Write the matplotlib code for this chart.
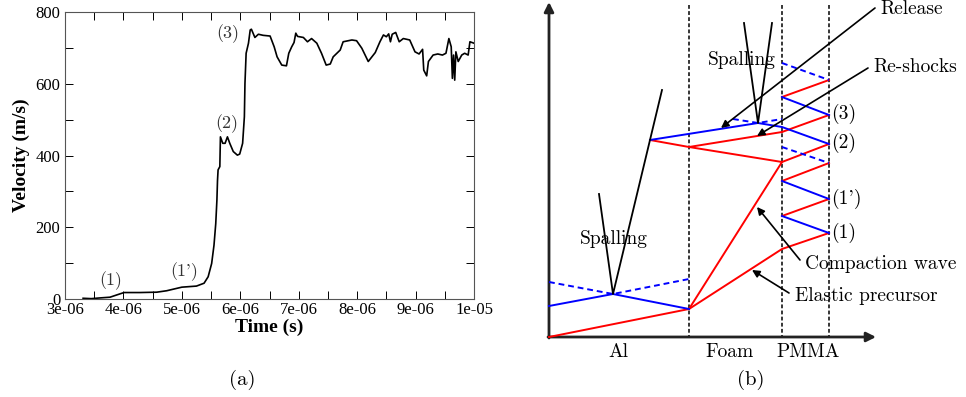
import numpy as np
import matplotlib.pyplot as plt
from matplotlib.ticker import MultipleLocator, FuncFormatter

# ---- panel (a): free surface velocity (time in microseconds) ----
t_us = [3.31, 3.45, 3.60, 3.77, 3.88, 4.01, 4.28, 4.57, 4.74, 5.00, 5.25, 5.38,
        5.45, 5.51, 5.55, 5.58, 5.60, 5.61, 5.62, 5.65, 5.66, 5.70, 5.74, 5.78, 5.82, 5.88,
        5.95, 5.99, 6.04, 6.07, 6.08, 6.10, 6.14, 6.17, 6.19, 6.25, 6.31, 6.39,
        6.51, 6.58, 6.63, 6.71, 6.79, 6.83, 6.88, 6.92, 6.95, 6.98, 7.08, 7.15,
        7.22, 7.31, 7.39, 7.47, 7.54, 7.59, 7.71, 7.76, 7.91, 7.99, 8.08, 8.19,
        8.31, 8.39, 8.45, 8.50, 8.54, 8.57, 8.60, 8.66, 8.72, 8.79, 8.90, 8.99,
        9.06, 9.12, 9.14, 9.19, 9.22, 9.30, 9.38, 9.46, 9.52, 9.57, 9.61, 9.63,
        9.65, 9.67, 9.69, 9.73, 9.79, 9.84, 9.90, 9.93, 10.0]
velocity = [2, 1, 3, 5, 11, 18, 18, 19, 23, 33, 36, 44,
            62, 99, 150, 210, 276, 330, 360, 369, 452, 434, 434, 452, 434, 411,
            401, 404, 434, 508, 601, 685, 713, 750, 752, 729, 738, 735,
            733, 703, 675, 652, 650, 685, 703, 715, 741, 732, 729, 717,
            726, 713, 685, 652, 655, 675, 694, 717, 722, 720, 699, 662,
            687, 717, 736, 731, 739, 717, 738, 743, 717, 726, 722, 689,
            683, 696, 638, 622, 662, 680, 683, 680, 685, 726, 703, 615,
            680, 610, 689, 662, 680, 685, 680, 717, 713]
point_labels = ["(1)", "(1')", "(2)", "(3)"]
point_t_us = [3.79, 5.04, 5.77, 5.79]
point_v = [50, 75, 490, 741]

# ---- panel (b): wave diagram (schematic, pixel units) ----
interfaces_x = [689, 782, 829]
red_paths = [
    [(549, 337), (689, 309)],
    [(689, 309), (782, 249), (829, 233)],
    [(689, 309), (782, 162)],
    [(782, 216), (829, 199)],
    [(782, 181), (829, 163)],
    [(782, 162), (829, 144)],
    [(782, 132), (829, 115)],
    [(782, 97), (829, 80)],
    [(650, 140), (689, 147), (782, 162)],
    [(689, 147), (782, 132)],
]
blue_paths = [
    [(549, 306), (613, 294), (689, 309)],
    [(650, 140), (758, 123), (782, 127), (829, 144)],
    [(782, 216), (829, 233)],
    [(782, 181), (829, 199)],
    [(782, 97), (829, 115)],
]
blue_dashed = [
    [(549, 282), (613, 294), (689, 279)],
    [(733, 119), (758, 123), (782, 119)],
    [(782, 147), (829, 163)],
    [(782, 63), (829, 80)],
]
spall_lines = [
    [(599, 194), (613, 294), (662, 90)],
    [(744, 23), (758, 123), (772, 23)],
]
arrow_texts = ["Release", "Re-shocks", "Compaction wave", "Elastic precursor"]
arrow_text_pos = [(880, 9), (873, 67), (805, 264), (795, 296)]
arrow_start = [(875, 8), (868, 68), (800, 260), (789, 293)]
arrow_end = [(721, 128), (757, 136), (757, 207), (752, 270)]
state_labels = ["(3)", "(2)", "(1')", "(1)"]
state_y = [114, 143, 199, 233]
material_labels = ["Al", "Foam", "PMMA"]
material_x = [618, 729, 808]

W, H = 966, 397
fig = plt.figure(figsize=(W / 100, H / 100), dpi=100)

# ---------- (a) ----------
ax = fig.add_axes([65 / W, (H - 299) / H, (474 - 65) / W, (299 - 12) / H])
ax.plot(np.array(t_us) * 1e-6, velocity, color='black', lw=1.2)
ax.set_xlim(3e-6, 1e-5)
ax.set_ylim(0, 800)
ax.xaxis.set_major_locator(MultipleLocator(1e-6))
ax.xaxis.set_minor_locator(MultipleLocator(5e-7))
ax.yaxis.set_major_locator(MultipleLocator(200))
ax.yaxis.set_minor_locator(MultipleLocator(100))
ax.xaxis.set_major_formatter(FuncFormatter(lambda v, p: "{:.0e}".format(v)))
ax.tick_params(which='both', direction='in', top=True, right=True, length=6, width=0.7)
ax.tick_params(axis='x', pad=2)
for lab in ax.get_xticklabels() + ax.get_yticklabels():
    lab.set_fontfamily('Liberation Serif')
    lab.set_fontsize(12)
for s in ax.spines.values():
    s.set_linewidth(0.8)
    s.set_color('#555555')
ax.set_xlabel("Time (s)", family='Liberation Serif', fontsize=14, fontweight='bold', labelpad=1)
ax.set_ylabel("Velocity (m/s)", family='Liberation Serif', fontsize=14, fontweight='bold', labelpad=4)
for lab, tx, vy in zip(point_labels, point_t_us, point_v):
    ax.text(tx * 1e-6, vy, lab, family='cmr10', fontsize=13, ha='center', va='center',
            color='#333333', clip_on=False)
fig.text(242 / W, 1 - 380 / H, "(a)", family='cmr10', fontsize=15, ha='center', va='center')

# ---------- (b) ----------
bx = fig.add_axes([483 / W, 0, 483 / W, 1])
bx.set_xlim(483, 966)
bx.set_ylim(397, 0)
bx.axis('off')

for x in interfaces_x:
    bx.plot([x, x], [5, 337], color='black', lw=1.1, ls=(0, (2.5, 1.5)), zorder=1)

bx.annotate("", xy=(549, 2), xytext=(549, 338),
            arrowprops=dict(arrowstyle='-|>', color='#222222', lw=2, mutation_scale=14,
                            shrinkA=0, shrinkB=0))
bx.annotate("", xy=(876, 337), xytext=(548, 337),
            arrowprops=dict(arrowstyle='-|>', color='#222222', lw=2, mutation_scale=14,
                            shrinkA=0, shrinkB=0))

for path in red_paths:
    xs, ys = zip(*path)
    bx.plot(xs, ys, color='#ff0000', lw=1.4, zorder=3)
for path in blue_paths:
    xs, ys = zip(*path)
    bx.plot(xs, ys, color='#0000ff', lw=1.4, zorder=3)
for path in blue_dashed:
    xs, ys = zip(*path)
    bx.plot(xs, ys, color='#0000ff', lw=1.4, ls=(0, (3, 2)), zorder=3)
for path in spall_lines:
    xs, ys = zip(*path)
    bx.plot(xs, ys, color='black', lw=1.3, zorder=4)

bx.text(580, 239, "Spalling", family='cmr10', fontsize=14, ha='left', va='center', zorder=2)
bx.text(708, 60, "Spalling", family='cmr10', fontsize=14, ha='left', va='center', zorder=2)

for txt, tp, st, en in zip(arrow_texts, arrow_text_pos, arrow_start, arrow_end):
    bx.text(tp[0], tp[1], txt, family='cmr10', fontsize=14, ha='left', va='center', zorder=2)
    bx.annotate("", xy=en, xytext=st,
                arrowprops=dict(arrowstyle='-|>', color='black', lw=1.2, mutation_scale=11,
                                shrinkA=0, shrinkB=0), zorder=5)

for lab, y in zip(state_labels, state_y):
    bx.text(831, y, lab, family='cmr10', fontsize=14, ha='left', va='center')
for lab, x in zip(material_labels, material_x):
    bx.text(x, 352, lab, family='cmr10', fontsize=14, ha='center', va='center')
bx.text(751, 380, "(b)", family='cmr10', fontsize=15, ha='center', va='center')

fig.savefig("out.png", dpi=100)
